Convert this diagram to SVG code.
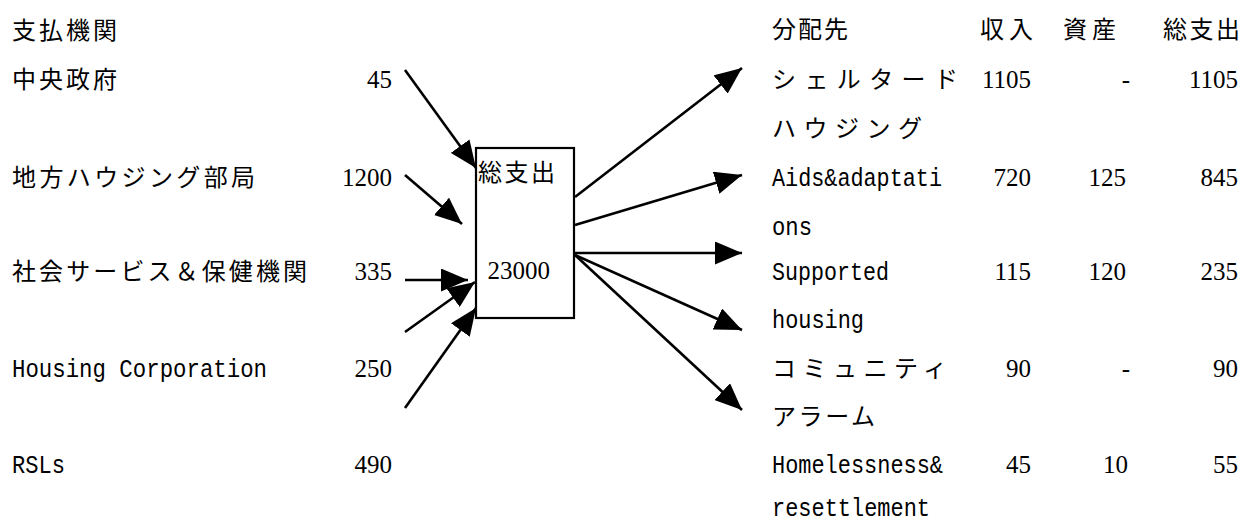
<svg xmlns="http://www.w3.org/2000/svg" width="1247" height="524" viewBox="0 0 1247 524">
<style>
.j{font-family:"Liberation Serif","Noto Sans CJK JP",serif;font-size:24px;fill:#000}
.m{font-family:"Liberation Mono","Noto Sans CJK JP",monospace;font-size:25px;fill:#000}
.n{font-family:"Liberation Serif","Noto Sans CJK JP",serif;font-size:25px;fill:#000;text-anchor:end}
.c{stroke:#000;stroke-width:2.6;fill:none;marker-end:url(#ah)}
</style>
<defs>
<marker id="ah" markerUnits="userSpaceOnUse" markerWidth="27" markerHeight="23" refX="27" refY="11.5" orient="auto">
<path d="M0,0 L27,11.5 L0,23 z" fill="#000"/>
</marker>
</defs>
<rect width="1247" height="524" fill="#fff"/>
<g id="payers">
<text class="j" x="12" y="39" textLength="105" lengthAdjust="spacing">支払機関</text>
<text class="j" x="12" y="88" textLength="105" lengthAdjust="spacing">中央政府</text>
<text class="n" x="392" y="88">45</text>
<text class="j" x="12" y="186" textLength="243" lengthAdjust="spacing">地方ハウジング部局</text>
<text class="n" x="392" y="186">1200</text>
<text class="j" x="12" y="280" textLength="295" lengthAdjust="spacing">社会サービス＆保健機関</text>
<text class="n" x="392" y="280">335</text>
<text class="m" x="12" y="377" textLength="255" lengthAdjust="spacingAndGlyphs">Housing Corporation</text>
<text class="n" x="392" y="377">250</text>
<text class="m" x="12" y="473" textLength="53" lengthAdjust="spacingAndGlyphs">RSLs</text>
<text class="n" x="392" y="473">490</text>
</g>
<g id="total">
<rect x="476" y="148" width="98" height="170" fill="#fff" stroke="#000" stroke-width="2.2"/>
<text class="j" x="478" y="181" textLength="77" lengthAdjust="spacing">総支出</text>
<text class="n" x="550" y="279">23000</text>
</g>
<g id="connectors">
<line class="c" x1="405" y1="70" x2="476" y2="168"/>
<line class="c" x1="405" y1="175" x2="462" y2="224"/>
<line class="c" x1="405" y1="280" x2="468" y2="280"/>
<line class="c" x1="405" y1="332" x2="475" y2="282"/>
<line class="c" x1="405" y1="408" x2="476" y2="308"/>
<line class="c" x1="575" y1="197" x2="742" y2="68"/>
<line class="c" x1="575" y1="225" x2="742" y2="175"/>
<line class="c" x1="575" y1="253" x2="742" y2="253"/>
<line class="c" x1="575" y1="255" x2="742" y2="330"/>
<line class="c" x1="575" y1="255" x2="742" y2="410"/>
</g>
<g id="recipients">
<text class="j" x="772" y="38" textLength="76" lengthAdjust="spacing">分配先</text>
<text class="j" x="980" y="38" textLength="53" lengthAdjust="spacing">収入</text>
<text class="j" x="1063" y="38" textLength="53" lengthAdjust="spacing">資産</text>
<text class="j" x="1163" y="38" textLength="77" lengthAdjust="spacing">総支出</text>

<text class="j" x="772" y="88" textLength="186" lengthAdjust="spacing">シェルタード</text>
<text class="n" x="1031" y="88">1105</text>
<text class="n" x="1130" y="88">-</text>
<text class="n" x="1238" y="88">1105</text>
<text class="j" x="772" y="137" textLength="150" lengthAdjust="spacing">ハウジング</text>

<text class="m" x="772" y="186" textLength="170" lengthAdjust="spacingAndGlyphs">Aids&amp;adaptati</text>
<text class="n" x="1031" y="186">720</text>
<text class="n" x="1126" y="186">125</text>
<text class="n" x="1238" y="186">845</text>
<text class="m" x="772" y="235" textLength="40" lengthAdjust="spacingAndGlyphs">ons</text>

<text class="m" x="772" y="280" textLength="117" lengthAdjust="spacingAndGlyphs">Supported</text>
<text class="n" x="1031" y="280">115</text>
<text class="n" x="1126" y="280">120</text>
<text class="n" x="1238" y="280">235</text>
<text class="m" x="772" y="328" textLength="92" lengthAdjust="spacingAndGlyphs">housing</text>

<text class="j" x="772" y="377" textLength="175" lengthAdjust="spacing">コミュニティ</text>
<text class="n" x="1031" y="377">90</text>
<text class="n" x="1130" y="377">-</text>
<text class="n" x="1238" y="377">90</text>
<text class="j" x="772" y="425" textLength="103" lengthAdjust="spacing">アラーム</text>

<text class="m" x="772" y="473" textLength="171" lengthAdjust="spacingAndGlyphs">Homelessness&amp;</text>
<text class="n" x="1031" y="473">45</text>
<text class="n" x="1128" y="473">10</text>
<text class="n" x="1238" y="473">55</text>
<text class="m" x="772" y="516" textLength="158" lengthAdjust="spacingAndGlyphs">resettlement</text>
</g>
</svg>
